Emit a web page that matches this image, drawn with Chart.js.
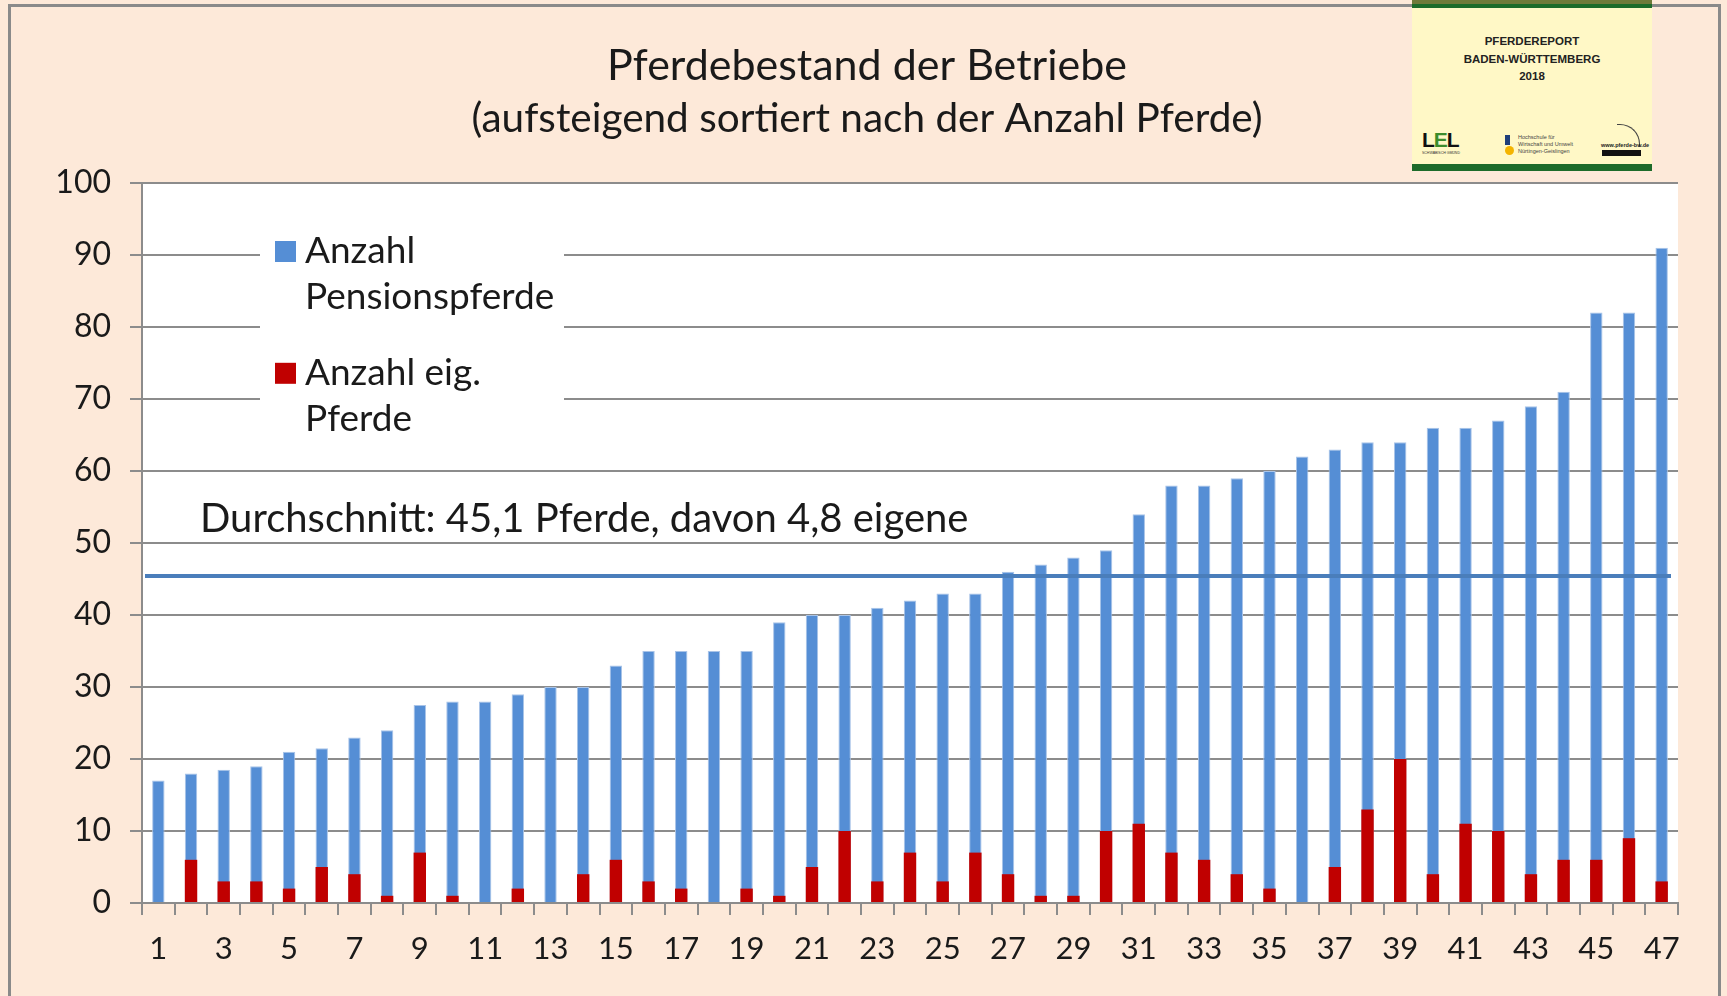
<!DOCTYPE html>
<html lang="de">
<head>
    <meta charset="UTF-8">
    <title>Pferdebestand der Betriebe</title>
    <script src="https://cdn.jsdelivr.net/npm/chart.js"></script>
    <style>
        body { margin: 0; background: #fde9d9; }
        #wrap { position: relative; width: 1727px; height: 996px; overflow: hidden; }
        #rahmen {
            position: absolute; left: 8px; top: 4px; width: 1713px; height: 1000px;
            border: 3px solid #8a8a8a; border-bottom: none; box-sizing: border-box;
        }
        #pferdeChart { position: absolute; left: 0; top: 0; }
        /* Titelbild des Pferdereports oben rechts */
        #report {
            position: absolute; left: 1412px; top: 0; width: 240px; height: 171px;
            background: #fff8c6; font-family: "Liberation Sans", Arial, sans-serif;
        }
        #report .foto { height: 4px; background: #6f7a3a; }
        #report .gruen { height: 4px; background: #1d6b2a; }
        #report .unten { position: absolute; left: 0; bottom: 0; width: 100%; height: 7px; background: #1d6b2a; }
        #report .titel { position: absolute; top: 33px; width: 100%; text-align: center;
            font-weight: bold; font-size: 11.5px; line-height: 17.5px; color: #222; }
        #report .lel { position: absolute; left: 10px; top: 128px; font-weight: bold; font-size: 21px; color: #111; letter-spacing: -1px; }
        #report .lel span { color: #3c8c2c; }
        #report .lelsub { position: absolute; left: 10px; top: 151px; font-size: 3.5px; color: #333; }
        #report .hs { position: absolute; left: 93px; top: 135px; width: 5px; height: 10px; background: #1f3f7a; }
        #report .hs2 { position: absolute; left: 93px; top: 146px; width: 9px; height: 9px; border-radius: 50%; background: #f4b400; }
        #report .hstxt { position: absolute; left: 106px; top: 134px; font-size: 5.5px; line-height: 7px; color: #444; }
        #report .bw { position: absolute; left: 189px; top: 142px; font-size: 5.5px; font-weight: bold; color: #222; }
        #report .bwbar { position: absolute; left: 190px; top: 150px; width: 39px; height: 6px; background: #111; }
        #report .bogen { position: absolute; left: 205px; top: 124px; width: 22px; height: 22px;
            border-top: 1px solid #444; border-right: 1px solid #444; border-radius: 0 20px 0 0; }
    </style>
</head>
<body>
<div id="wrap">
    <div id="rahmen"></div>
    <canvas id="pferdeChart" width="1727" height="996"></canvas>
    <div id="report">
        <div class="foto"></div><div class="gruen"></div>
        <div class="titel">PFERDEREPORT<br>BADEN-WÜRTTEMBERG<br>2018</div>
        <div class="lel">L<span>E</span>L</div>
        <div class="lelsub">SCHWÄBISCH GMÜND</div>
        <div class="hs"></div><div class="hs2"></div>
        <div class="hstxt">Hochschule für<br>Wirtschaft und Umwelt<br>Nürtingen-Geislingen</div>
        <div class="bogen"></div>
        <div class="bw">www.pferde-bw.de</div>
        <div class="bwbar"></div>
        <div class="unten"></div>
    </div>
</div>

<script>
    // Betriebe 1..47, aufsteigend nach Anzahl Pferde
    const betriebe = Array.from({ length: 47 }, (_, i) => String(i + 1));

    // Gesamthöhe der blauen Säulen (Anzahl Pferde je Betrieb)
    const pensionspferde = [
        17, 18, 18.5, 19, 21, 21.5, 23, 24, 27.5, 28,
        28, 29, 30, 30, 33, 35, 35, 35, 35, 39,
        40, 40, 41, 42, 43, 43, 46, 47, 48, 49,
        54, 58, 58, 59, 60, 62, 63, 64, 64, 66,
        66, 67, 69, 71, 82, 82, 91
    ];

    // rote Säulen: eigene Pferde
    const eigenePferde = [
        0, 6, 3, 3, 2, 5, 4, 1, 7, 1,
        0, 2, 0, 4, 6, 3, 2, 0, 2, 1,
        5, 10, 3, 7, 3, 7, 4, 1, 1, 10,
        11, 7, 6, 4, 2, 0, 5, 13, 20, 4,
        11, 10, 4, 6, 6, 9, 3
    ];

    const durchschnittLinie = 45.4;
    const durchschnittText = 'Durchschnitt: 45,1 Pferde, davon 4,8 eigene';
    const yTicks = [0, 10, 20, 30, 40, 50, 60, 70, 80, 90, 100];

    const BLAU = '#558ed5';
    const ROT = '#c00000';
    const GRAU = '#8c8c8c';
    const SCHRIFT = 'Lato, "Open Sans", sans-serif';

    // weißer Plotbereich, Titel, Legende, Durchschnittslinie
    const deko = {
        id: 'deko',
        beforeDraw(chart) {
            const { ctx, chartArea: a } = chart;
            ctx.save();
            ctx.fillStyle = '#ffffff';
            ctx.fillRect(a.left, a.top, a.right - a.left, a.bottom - a.top);
            ctx.restore();
        },
        beforeDatasetsDraw(chart) {
            const { ctx, chartArea: a } = chart;
            const y = chart.scales.y;
            ctx.save();
            // Legende mit weißem Hintergrund über den Gitterlinien
            ctx.fillStyle = '#ffffff';
            ctx.fillRect(a.left + 118, y.getPixelForValue(95.5), 304, 226);
            ctx.font = '37px ' + SCHRIFT;
            ctx.textBaseline = 'middle';
            const y1 = y.getPixelForValue(90) - 4;
            const y2 = y.getPixelForValue(73.5) - 1;
            ctx.fillStyle = BLAU;
            ctx.fillRect(a.left + 133, y1 - 10, 21, 21);
            ctx.fillStyle = ROT;
            ctx.fillRect(a.left + 133, y2 - 10, 21, 21);
            ctx.fillStyle = '#1a1a1a';
            ctx.fillText('Anzahl', a.left + 163, y1);
            ctx.fillText('Pensionspferde', a.left + 163, y1 + 46);
            ctx.fillText('Anzahl eig.', a.left + 163, y2);
            ctx.fillText('Pferde', a.left + 163, y2 + 46);
            // Durchschnittstext
            ctx.font = '40px ' + SCHRIFT;
            ctx.fillText(durchschnittText, a.left + 58, y.getPixelForValue(53.3));
            ctx.restore();
        },
        afterDatasetsDraw(chart) {
            const { ctx, chartArea: a } = chart;
            const yy = chart.scales.y.getPixelForValue(durchschnittLinie);
            ctx.save();
            ctx.strokeStyle = '#4a7ebb';
            ctx.lineWidth = 4;
            ctx.beginPath();
            ctx.moveTo(a.left + 3, yy);
            ctx.lineTo(a.right - 7, yy);
            ctx.stroke();
            ctx.restore();
        },
        afterDraw(chart) {
            const { ctx } = chart;
            ctx.save();
            ctx.fillStyle = '#1a1a1a';
            ctx.textAlign = 'center';
            ctx.textBaseline = 'middle';
            ctx.font = '43px ' + SCHRIFT;
            ctx.fillText('Pferdebestand der Betriebe', 867, 66);
            ctx.font = '40.5px ' + SCHRIFT;
            ctx.fillText('(aufsteigend sortiert nach der Anzahl Pferde)', 867, 119);
            ctx.restore();
        }
    };

    new Chart(document.getElementById('pferdeChart'), {
        type: 'bar',
        data: {
            labels: betriebe,
            datasets: [{
                label: 'Anzahl eig. Pferde',
                data: eigenePferde,
                backgroundColor: ROT,
                grouped: false,
                order: 0
            }, {
                label: 'Anzahl Pensionspferde',
                data: pensionspferde,
                backgroundColor: BLAU,
                borderColor: '#a9c4e8',
                borderWidth: { top: 1, left: 1, right: 1, bottom: 0 },
                grouped: false,
                order: 1
            }]
        },
        options: {
            responsive: false,
            animation: false,
            events: [],
            categoryPercentage: 1,
            barPercentage: 0.38,
            layout: { padding: { left: 0, right: 49, top: 183, bottom: 0 } },
            plugins: {
                legend: { display: false },
                title: { display: false },
                tooltip: { enabled: false }
            },
            scales: {
                x: {
                    afterFit(scale) { scale.height = 93; },
                    grid: {
                        offset: true,
                        drawOnChartArea: false,
                        drawTicks: true,
                        tickLength: 12,
                        color: GRAU,
                        lineWidth: 2
                    },
                    border: { color: GRAU, width: 2 },
                    ticks: {
                        autoSkip: false,
                        maxRotation: 0,
                        padding: 15,
                        color: '#1a1a1a',
                        font: { family: SCHRIFT, size: 31 }
                    ,
                        callback: (v, i) => (i % 2 === 0 ? betriebe[i] : '')
                    }
                },
                y: {
                    min: 0,
                    max: 100,
                    afterFit(scale) { scale.width = 142; },
                    afterBuildTicks(scale) { scale.ticks = yTicks.map(v => ({ value: v })); },
                    grid: {
                        color: GRAU,
                        lineWidth: 2,
                        tickLength: 12
                    },
                    border: { color: GRAU, width: 2 },
                    ticks: {
                        padding: 19,
                        color: '#1a1a1a',
                        font: { family: SCHRIFT, size: 32 }
                    }
                }
            }
        },
        plugins: [deko]
    });
</script>
</body>
</html>
